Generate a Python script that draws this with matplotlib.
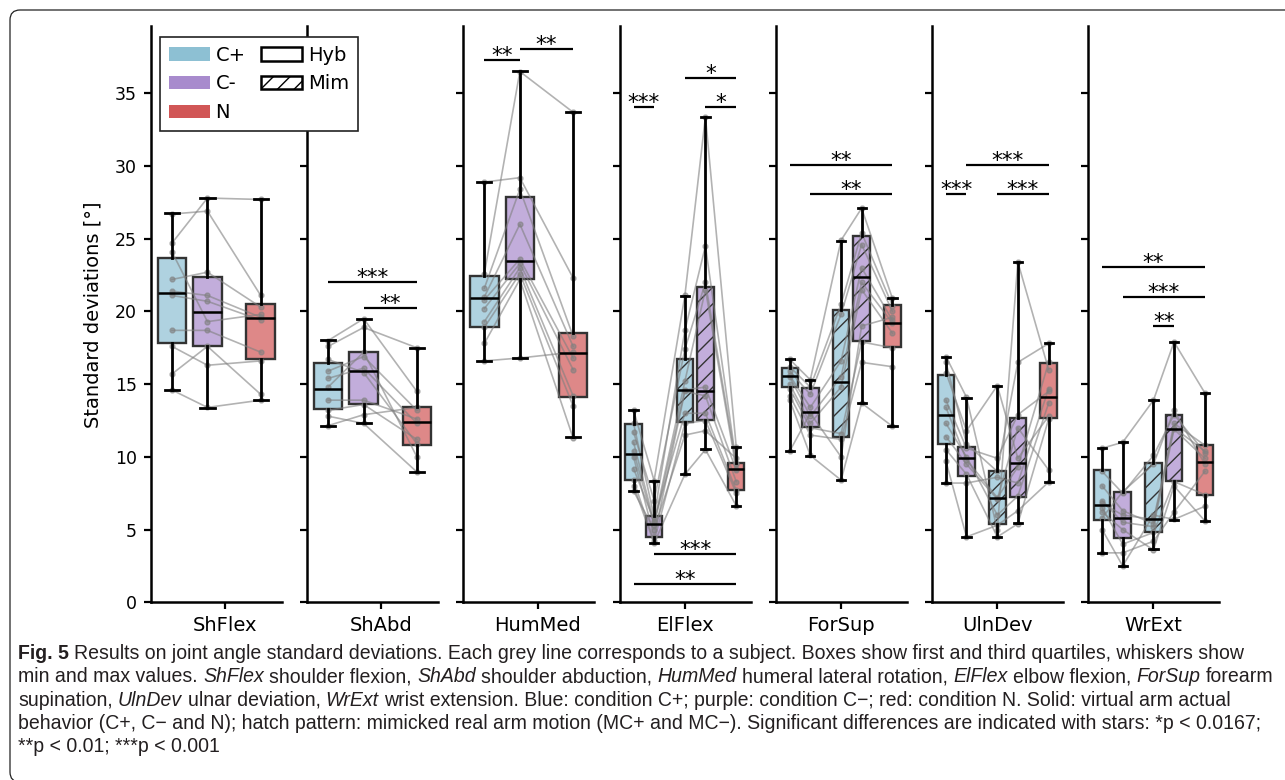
import numpy as np
import matplotlib
matplotlib.use('Agg')
import matplotlib.pyplot as plt
from matplotlib.patches import Patch, FancyBboxPatch
from matplotlib.colors import to_rgba
from matplotlib.transforms import IdentityTransform
from matplotlib import font_manager

plt.rcParams['font.family'] = ['DejaVu Sans']

W, H = 1285, 780

# condition colours
col_cplus = '#8dc0d3'
col_cminus = '#a88bcd'
col_n = '#d15656'

joints = ['ShFlex', 'ShAbd', 'HumMed', 'ElFlex', 'ForSup', 'UlnDev', 'WrExt']
conds3 = ['C+', 'C-', 'N']
conds5 = ['C+', 'C-', 'MC+', 'MC-', 'N']
pos3 = [0, 1, 2.5]
pos5 = [0, 1, 2.5, 3.5, 5]

# box stats per condition: (min, q1, median, q3, max)
shflex_stats = [(14.6, 17.85, 21.25, 23.66, 26.75), (13.38, 17.63, 19.99, 22.35, 27.8),
                (13.9, 16.73, 19.53, 20.5, 27.7)]
shabd_stats = [(12.15, 13.32, 14.69, 16.44, 18.04), (12.31, 13.62, 15.93, 17.19, 19.48),
               (8.96, 10.84, 12.42, 13.45, 17.51)]
hummed_stats = [(16.6, 18.91, 20.91, 22.44, 28.93), (16.78, 22.21, 23.47, 27.85, 36.54),
                (11.35, 14.14, 17.17, 18.5, 33.72)]
elflex_stats = [(7.65, 8.41, 10.2, 12.26, 13.23), (4.06, 4.47, 5.39, 5.94, 8.37),
                (8.8, 12.42, 14.58, 16.75, 21.09), (10.54, 12.54, 14.53, 21.66, 33.36),
                (6.64, 7.72, 9.15, 9.6, 10.7)]
forsup_stats = [(10.4, 14.79, 15.56, 16.14, 16.71), (10.08, 12.08, 13.09, 14.72, 15.29),
                (8.43, 11.39, 15.15, 20.1, 24.87), (13.69, 17.99, 22.37, 25.19, 27.14),
                (12.12, 17.58, 19.23, 20.45, 20.9)]
ulndev_stats = [(8.18, 10.89, 12.9, 15.65, 16.89), (4.47, 8.71, 9.9, 10.7, 14.07),
                (4.47, 5.39, 7.17, 9.05, 14.9), (5.43, 7.26, 9.6, 12.65, 23.4),
                (8.27, 12.7, 14.1, 16.48, 17.81)]
wrext_stats = [(3.41, 5.66, 6.67, 9.1, 10.59), (2.5, 4.4, 5.78, 7.57, 11.0),
               (3.64, 4.81, 5.73, 9.56, 13.91), (5.66, 8.34, 11.94, 12.88, 17.92),
               (5.61, 7.4, 9.67, 10.82, 14.42)]

# per-subject values (10 subjects), one list per condition
shflex_subj = [[26.7, 24.7, 24.1, 22.2, 21.4, 21.1, 18.7, 17.6, 15.7, 14.6],
               [26.9, 27.8, 19.3, 22.7, 21.1, 20.7, 18.7, 16.3, 17.6, 13.4],
               [21.1, 27.7, 19.8, 20.3, 19.6, 19.4, 17.2, 16.6, 14.3, 13.9]]
shabd_subj = [[18.0, 17.6, 16.7, 15.9, 15.4, 14.8, 13.9, 13.2, 12.8, 12.15],
              [19.5, 18.9, 15.8, 16.9, 16.1, 17.2, 13.9, 13.6, 12.3, 12.9],
              [14.5, 17.5, 10.9, 13.2, 12.3, 10.0, 12.6, 11.2, 8.96, 13.4]]
hummed_subj = [[28.9, 22.6, 21.6, 21.0, 20.8, 20.2, 19.3, 18.9, 17.8, 16.6],
               [29.2, 36.5, 28.4, 26.0, 23.6, 23.3, 23.0, 22.6, 22.2, 16.8],
               [22.3, 33.7, 18.3, 17.6, 16.8, 16.0, 14.2, 13.5, 11.3, 17.2]]
elflex_subj = [[13.2, 12.3, 11.7, 11.0, 10.4, 10.0, 9.2, 8.4, 8.0, 7.65],
               [8.37, 5.9, 7.0, 5.5, 5.3, 4.5, 5.6, 4.2, 4.06, 5.0],
               [21.1, 18.7, 17.4, 15.2, 14.6, 14.5, 13.0, 12.3, 8.8, 11.5],
               [33.4, 24.5, 22.0, 21.5, 14.8, 14.2, 13.0, 12.5, 10.5, 11.8],
               [10.7, 9.6, 9.5, 9.2, 9.1, 8.3, 7.7, 7.5, 6.64, 9.9]]
forsup_subj = [[16.7, 16.2, 15.9, 15.6, 15.5, 15.0, 14.7, 14.2, 13.9, 10.4],
               [15.3, 14.8, 14.3, 13.4, 12.8, 12.3, 12.0, 11.5, 10.1, 13.0],
               [24.9, 20.5, 19.8, 16.6, 15.5, 14.8, 11.6, 11.2, 8.4, 10.0],
               [27.1, 25.4, 24.6, 23.0, 22.0, 21.5, 17.9, 16.5, 13.7, 19.0],
               [20.9, 20.4, 20.0, 19.4, 19.2, 18.5, 17.5, 16.2, 12.1, 19.6]]
ulndev_subj = [[16.9, 16.5, 15.8, 13.9, 13.4, 12.3, 11.4, 10.5, 9.7, 8.2],
               [14.1, 10.9, 11.8, 10.6, 9.8, 10.0, 9.5, 8.8, 4.5, 8.2],
               [5.0, 9.0, 14.9, 9.9, 7.2, 6.0, 7.1, 4.5, 5.3, 8.6],
               [23.4, 16.5, 9.9, 12.9, 9.3, 7.3, 12.0, 5.4, 6.3, 8.2],
               [16.0, 17.8, 12.8, 14.5, 16.5, 13.7, 9.1, 12.6, 8.27, 14.7]]
wrext_subj = [[10.6, 9.0, 7.0, 6.8, 6.5, 6.2, 5.8, 5.0, 3.4, 8.0],
              [11.0, 7.5, 5.5, 6.0, 4.0, 5.0, 7.6, 2.5, 3.4, 6.3],
              [13.9, 10.1, 5.2, 5.7, 4.8, 3.6, 9.5, 6.0, 4.2, 5.4],
              [17.9, 12.9, 11.9, 12.0, 8.3, 8.0, 13.2, 5.7, 6.2, 12.3],
              [14.4, 10.3, 9.9, 10.4, 7.4, 5.6, 9.5, 6.6, 9.0, 10.8]]

# significance bars: (from box, to box, height, stars)
shflex_sig = []
shabd_sig = [(0, 2, 22.05, '***'), (1, 2, 20.26, '**')]
hummed_sig = [(0, 1, 37.28, '**'), (1, 2, 38.08, '**')]
elflex_sig = [(0, 1, 34.07, '***'), (2, 4, 36.06, '*'), (3, 4, 34.07, '*'),
              (1, 4, 3.32, '***'), (0, 4, 1.24, '**')]
forsup_sig = [(0, 4, 30.08, '**'), (1, 4, 28.06, '**')]
ulndev_sig = [(1, 4, 30.08, '***'), (0, 1, 28.06, '***'), (2, 4, 28.06, '***')]
wrext_sig = [(0, 4, 23.04, '**'), (1, 4, 21.02, '***'), (2, 3, 19.02, '**')]

panels = [(shflex_stats, shflex_subj, shflex_sig), (shabd_stats, shabd_subj, shabd_sig),
          (hummed_stats, hummed_subj, hummed_sig), (elflex_stats, elflex_subj, elflex_sig),
          (forsup_stats, forsup_subj, forsup_sig), (ulndev_stats, ulndev_subj, ulndev_sig),
          (wrext_stats, wrext_subj, wrext_sig)]

cond_color = {'C+': col_cplus, 'C-': col_cminus, 'MC+': col_cplus, 'MC-': col_cminus, 'N': col_n}

fig = plt.figure(figsize=(W / 100, H / 100), dpi=100)

for k, (stats, subj, sig) in enumerate(panels):
    ax = fig.add_axes([(151 + 156.2 * k) / W, 177.7 / H, 131 / W, 576.3 / H])
    if len(stats) == 3:
        conds, pos, xlim, xt = conds3, pos3, (-0.59, 3.1), 1.5
    else:
        conds, pos, xlim, xt = conds5, pos5, (-0.68, 5.7), 2.5

    bstats = [dict(whislo=s[0], q1=s[1], med=s[2], q3=s[3], whishi=s[4], fliers=[]) for s in stats]
    bp = ax.bxp(bstats, positions=pos, widths=0.8, patch_artist=True, showfliers=False,
                manage_ticks=False)
    for patch, c in zip(bp['boxes'], conds):
        patch.set_facecolor(to_rgba(cond_color[c], 0.7))
        patch.set_edgecolor('#333333')
        patch.set_linewidth(1.7)
        patch.set_zorder(3)
        if c.startswith('M'):
            patch.set_hatch('//')
    for key in ['whiskers', 'caps', 'medians']:
        for ln in bp[key]:
            ln.set_color('black')
            ln.set_linewidth(2.0 if key != 'medians' else 1.8)
            ln.set_zorder(5)

    vals = np.array(subj)
    for i in range(vals.shape[1]):
        ax.plot(pos, vals[:, i], color='grey', alpha=0.6, lw=1.2, marker='o', ms=3.5,
                zorder=4)

    for i, j, lev, stars in sig:
        ax.plot([pos[i], pos[j]], [lev, lev], color='black', lw=1.6, solid_capstyle='butt')
        ax.text((pos[i] + pos[j]) / 2, lev - 0.15, stars, ha='center', va='baseline',
                fontsize=15.5)

    ax.set_xlim(*xlim)
    ax.set_ylim(0, 39.63)
    ax.set_yticks(range(0, 40, 5))
    ax.set_xticks([xt])
    for s in ['top', 'right']:
        ax.spines[s].set_visible(False)
    for s in ['left', 'bottom']:
        ax.spines[s].set_linewidth(1.8)
    ax.tick_params(width=1.6, length=5, labelsize=12.5, pad=5)
    ax.tick_params(axis='x', pad=5)
    ax.set_xticklabels([joints[k]], fontsize=14)
    if k > 0:
        ax.tick_params(labelleft=False)

fig.text(93 / W, 1 - 315 / H, 'Standard deviations [°]', rotation=90, ha='center',
         va='center', fontsize=14)

handles = [Patch(facecolor=col_cplus, edgecolor='none', label='C+'),
           Patch(facecolor=col_cminus, edgecolor='none', label='C-'),
           Patch(facecolor=col_n, edgecolor='none', label='N'),
           Patch(facecolor='white', edgecolor='black', lw=1.8, label='Hyb'),
           Patch(facecolor='white', edgecolor='black', lw=1.8, hatch='//', label='Mim')]
leg = fig.legend(handles=handles, loc='upper left', bbox_to_anchor=(160 / W, 1 - 37 / H),
                 borderaxespad=0, ncol=2, fontsize=14, handlelength=2.1, borderpad=0.45,
                 handletextpad=0.3, columnspacing=0.8, fancybox=False, framealpha=1)
leg.get_frame().set_edgecolor('#222222')
leg.get_frame().set_linewidth(1.2)

# outer rounded frame
frame = FancyBboxPatch((10, -2), 1300, 772, boxstyle='round,pad=0,rounding_size=10',
                       transform=IdentityTransform(), fill=False, edgecolor='#222222',
                       lw=0.9)
fig.add_artist(frame)

# caption
names = {f.name for f in font_manager.fontManager.ttflist}
cap_font = 'DejaVu Sans'
for cand in ['Liberation Sans Narrow', 'Liberation Sans', 'Open Sans']:
    if cand in names:
        cap_font = cand
        break

caption = [
    [('Fig. 5', 'b'), (' Results on joint angle standard deviations. Each grey line corresponds to a '
                      'subject. Boxes show first and third quartiles, whiskers show', 'n')],
    [('min and max values. ', 'n'), ('ShFlex', 'i'), (' shoulder flexion, ', 'n'), ('ShAbd', 'i'),
     (' shoulder abduction, ', 'n'), ('HumMed', 'i'), (' humeral lateral rotation, ', 'n'),
     ('ElFlex', 'i'), (' elbow flexion, ', 'n'), ('ForSup', 'i'), (' forearm', 'n')],
    [('supination, ', 'n'), ('UlnDev', 'i'), (' ulnar deviation, ', 'n'), ('WrExt', 'i'),
     (' wrist extension. Blue: condition C+; purple: condition C\u2212; red: condition N. '
      'Solid: virtual arm actual', 'n')],
    [('behavior (C+, C\u2212 and N); hatch pattern: mimicked real arm motion (MC+ and MC\u2212). '
      'Significant differences are indicated with stars: *p < 0.0167;', 'n')],
    [('**p < 0.01; ***p < 0.001', 'n')],
]

renderer = fig.canvas.get_renderer()


def style_kw(st, size):
    kw = dict(family=cap_font, fontsize=size)
    if st == 'b':
        kw['weight'] = 'bold'
    if st == 'i':
        kw['style'] = 'italic'
    return kw


def text_w(s, kw):
    t = fig.text(0, 0, s, transform=IdentityTransform(), **kw)
    w = t.get_window_extent(renderer).width
    t.remove()
    return w


def line_width(segs, size):
    tot = 0
    for txt, st in segs:
        kw = style_kw(st, size)
        sp = text_w('a a', kw) - text_w('aa', kw)
        tot += text_w(txt.strip(), kw)
        tot += sp * (txt.startswith(' ') + txt.endswith(' '))
    return tot


base = 12.0
cap_size = base * 1227 / line_width(caption[0], base)

for n, segs in enumerate(caption):
    x = 18
    y = H - (659 + 23.3 * n)
    for txt, st in segs:
        kw = style_kw(st, cap_size)
        sp = text_w('a a', kw) - text_w('aa', kw)
        if txt.startswith(' '):
            x += sp
        fig.text(x, y, txt.strip(), transform=IdentityTransform(), ha='left', va='baseline',
                 color='#231f20', **kw)
        x += text_w(txt.strip(), kw)
        if txt.endswith(' '):
            x += sp

fig.savefig('out.png', dpi=100)
